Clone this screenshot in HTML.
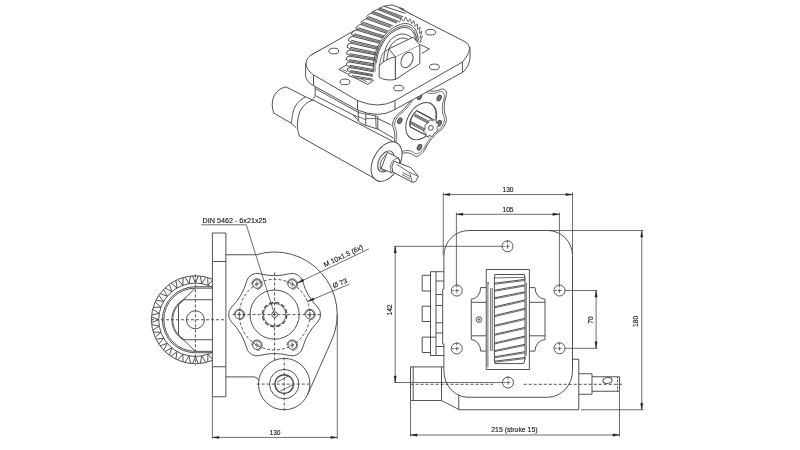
<!DOCTYPE html>
<html><head><meta charset="utf-8"><title>drawing</title>
<style>
html,body{margin:0;padding:0;background:#fff;}
body{width:800px;height:450px;overflow:hidden;font-family:"Liberation Sans",sans-serif;}
svg{display:block;will-change:transform;}
svg *{fill:none;stroke:#4a4a4a;stroke-width:0.95;stroke-linecap:butt;stroke-linejoin:round;}
svg text{fill:#111;stroke:#111;stroke-width:0.12;opacity:0.99;font-family:"Liberation Sans",sans-serif;}
svg .ar{fill:#222;stroke:#222;stroke-width:0.3;}
svg .t{stroke-width:0.8;}
svg .d{stroke-dasharray:3 2;}
svg .d2{stroke-dasharray:2 1.3;}
svg .w{fill:#fff;}
svg .wn{fill:#fff;stroke:none;}
svg .gb{fill:#e6e6e6;stroke:none;}
svg .dk{fill:#777;}
</style></head><body>
<svg width="800" height="450" viewBox="0 0 800 450">
<path d="M443.9,255.5 A25,25 0 0 1 468.9,230.5 L547.5,230.5 A25,25 0 0 1 572.5,255.5 L572.5,370.75 A25,26.5 0 0 1 547.5,397.25 L467.9,397.25 A24,26.5 0 0 1 443.9,370.75 L443.9,344 L442.7,344 L442.7,289 L443.9,289 Z"/>
<path d="M572.50,359.25 L578.75,359.25 L578.75,409.75 L458.75,409.75 L458.75,394.60"/>
<path d="M441.50,366.90 L410.50,366.90 L410.50,400.50 L441.50,400.50 L458.75,409.40"/>
<line x1="413.20" y1="366.90" x2="413.20" y2="400.50"/>
<line x1="441.50" y1="366.90" x2="441.50" y2="400.50"/>
<line x1="441.50" y1="366.90" x2="443.90" y2="366.90"/>
<path d="M578.75,373.75 L592.00,373.75 L592.00,394.25 L578.75,394.25"/>
<path d="M592.00,376.75 L619.50,376.75 L619.50,391.25 L592.00,391.25"/>
<line x1="617.50" y1="376.75" x2="617.50" y2="391.25" class='d2'/>
<ellipse cx="607.50" cy="380.50" rx="4.60" ry="2.90" transform="rotate(-8.0 607.50 380.50)"/>
<circle cx="507.50" cy="246.30" r="5.50"/>
<line x1="505.90" y1="246.30" x2="509.70" y2="246.30" class='t'/>
<line x1="507.50" y1="244.70" x2="507.50" y2="248.50" class='t'/>
<line x1="502.80" y1="246.30" x2="505.00" y2="246.30" class='t'/>
<line x1="507.50" y1="240.20" x2="507.50" y2="243.20" class='t'/>
<circle cx="508.00" cy="382.50" r="5.50"/>
<line x1="506.40" y1="382.50" x2="510.20" y2="382.50" class='t'/>
<line x1="508.00" y1="380.90" x2="508.00" y2="384.70" class='t'/>
<line x1="503.30" y1="382.50" x2="505.50" y2="382.50" class='t'/>
<line x1="508.00" y1="376.40" x2="508.00" y2="379.40" class='t'/>
<circle cx="456.75" cy="290.60" r="5.50"/>
<line x1="455.15" y1="290.60" x2="458.95" y2="290.60" class='t'/>
<line x1="456.75" y1="289.00" x2="456.75" y2="292.80" class='t'/>
<line x1="452.05" y1="290.60" x2="454.25" y2="290.60" class='t'/>
<line x1="456.75" y1="284.50" x2="456.75" y2="287.50" class='t'/>
<circle cx="456.75" cy="348.50" r="5.50"/>
<line x1="455.15" y1="348.50" x2="458.95" y2="348.50" class='t'/>
<line x1="456.75" y1="346.90" x2="456.75" y2="350.70" class='t'/>
<line x1="452.05" y1="348.50" x2="454.25" y2="348.50" class='t'/>
<line x1="456.75" y1="342.40" x2="456.75" y2="345.40" class='t'/>
<circle cx="559.50" cy="290.50" r="5.50"/>
<line x1="557.90" y1="290.50" x2="561.70" y2="290.50" class='t'/>
<line x1="559.50" y1="288.90" x2="559.50" y2="292.70" class='t'/>
<line x1="554.80" y1="290.50" x2="557.00" y2="290.50" class='t'/>
<line x1="559.50" y1="284.40" x2="559.50" y2="287.40" class='t'/>
<circle cx="559.50" cy="348.30" r="5.50"/>
<line x1="557.90" y1="348.30" x2="561.70" y2="348.30" class='t'/>
<line x1="559.50" y1="346.70" x2="559.50" y2="350.50" class='t'/>
<line x1="554.80" y1="348.30" x2="557.00" y2="348.30" class='t'/>
<line x1="559.50" y1="342.20" x2="559.50" y2="345.20" class='t'/>
<rect x="486.25" y="269.5" width="43.15" height="100"/>
<path d="M494.40,278.50 L494.90,274.50 L524.40,274.50 L525.00,278.50"/>
<path d="M494.40,359.60 L494.90,363.60 L523.80,363.60 L525.00,358.60"/>
<line x1="494.40" y1="277.50" x2="494.40" y2="360.60"/>
<line x1="525.00" y1="277.50" x2="525.00" y2="359.60"/>
<line x1="526.30" y1="282.50" x2="526.30" y2="355.60" class='t'/>
<line x1="494.40" y1="277.90" x2="525.00" y2="277.30" class='t'/>
<line x1="494.40" y1="283.20" x2="525.00" y2="279.40"/>
<line x1="494.40" y1="284.30" x2="525.00" y2="280.50" class='t'/>
<line x1="494.40" y1="290.20" x2="525.00" y2="284.90"/>
<line x1="494.40" y1="291.30" x2="525.00" y2="286.00" class='t'/>
<line x1="494.40" y1="297.80" x2="525.00" y2="291.80"/>
<line x1="494.40" y1="298.90" x2="525.00" y2="292.90" class='t'/>
<line x1="494.40" y1="306.80" x2="525.00" y2="299.90"/>
<line x1="494.40" y1="307.90" x2="525.00" y2="301.00" class='t'/>
<line x1="494.40" y1="315.60" x2="525.00" y2="308.30"/>
<line x1="494.40" y1="316.70" x2="525.00" y2="309.40" class='t'/>
<line x1="494.40" y1="325.40" x2="525.00" y2="318.40"/>
<line x1="494.40" y1="326.50" x2="525.00" y2="319.50" class='t'/>
<line x1="494.40" y1="334.30" x2="525.00" y2="327.40"/>
<line x1="494.40" y1="335.40" x2="525.00" y2="328.50" class='t'/>
<line x1="494.40" y1="343.00" x2="525.00" y2="336.00"/>
<line x1="494.40" y1="344.10" x2="525.00" y2="337.10" class='t'/>
<line x1="494.40" y1="350.60" x2="525.00" y2="344.30"/>
<line x1="494.40" y1="351.70" x2="525.00" y2="345.40" class='t'/>
<line x1="494.40" y1="356.80" x2="525.00" y2="351.70"/>
<line x1="494.40" y1="357.90" x2="525.00" y2="352.80" class='t'/>
<line x1="494.40" y1="361.20" x2="525.00" y2="357.50"/>
<line x1="494.40" y1="362.30" x2="525.00" y2="358.60" class='t'/>
<line x1="487.90" y1="282.00" x2="487.90" y2="367.30" class='t'/>
<line x1="490.60" y1="288.00" x2="490.60" y2="351.00" class='t'/>
<line x1="492.30" y1="288.00" x2="492.30" y2="351.00" class='t'/>
<line x1="487.90" y1="282.00" x2="489.00" y2="284.00" class='t'/>
<path d="M486.25,287.6 L480.65,287.6 A9.40,11.60 0 0 1 471.25,299.2 L471.25,339.59999999999997 A9.40,11.60 0 0 1 480.65,351.1 L486.25,351.1"/>
<line x1="471.25" y1="302.30" x2="486.25" y2="302.30"/>
<line x1="471.25" y1="335.80" x2="486.25" y2="335.80"/>
<path d="M529.4,287.6 L535.0,287.6 A10.00,11.60 0 0 0 545.0,299.2 L545.0,339.59999999999997 A10.00,11.60 0 0 0 535.0,351.1 L529.4,351.1"/>
<line x1="545.00" y1="302.30" x2="529.40" y2="302.30"/>
<line x1="545.00" y1="335.80" x2="529.40" y2="335.80"/>
<circle cx="478.90" cy="319.60" r="2.80"/>
<line x1="477.40" y1="319.60" x2="480.40" y2="319.60" class='t'/>
<line x1="478.90" y1="317.60" x2="478.90" y2="321.60" class='t'/>
<path d="M443.90,271.70 L430.50,271.70 L430.50,355.50 L443.90,355.50"/>
<line x1="436.00" y1="271.70" x2="436.00" y2="355.50"/>
<path d="M430.50,275.30 L422.20,275.30 L422.20,291.00 L430.50,291.00"/>
<path d="M430.50,306.20 L422.20,306.20 L422.20,321.50 L430.50,321.50"/>
<path d="M430.50,337.10 L422.20,337.10 L422.20,352.50 L430.50,352.50"/>
<line x1="430.50" y1="337.10" x2="436.00" y2="337.10"/>
<line x1="436.00" y1="281.00" x2="443.90" y2="281.00"/>
<line x1="436.00" y1="294.50" x2="442.70" y2="294.50"/>
<line x1="436.00" y1="305.50" x2="442.70" y2="305.50"/>
<line x1="436.00" y1="322.80" x2="442.70" y2="322.80"/>
<line x1="436.00" y1="333.00" x2="442.70" y2="333.00"/>
<line x1="436.00" y1="346.50" x2="443.90" y2="346.50"/>
<line x1="443.25" y1="192.50" x2="443.25" y2="255.50" class='t'/>
<line x1="572.50" y1="192.50" x2="572.50" y2="255.50" class='t'/>
<line x1="443.25" y1="194.50" x2="572.50" y2="194.50" class='t'/>
<path class="ar" d="M443.25,194.50 L449.85,193.30 L449.85,195.70 Z"/>
<path class="ar" d="M572.50,194.50 L565.90,195.70 L565.90,193.30 Z"/>
<text x="508.00" y="192.00" text-anchor="middle" font-size="6.6">130</text>
<line x1="456.40" y1="212.50" x2="456.40" y2="285.00" class='t'/>
<line x1="559.40" y1="212.50" x2="559.40" y2="285.00" class='t'/>
<line x1="456.40" y1="214.30" x2="559.40" y2="214.30" class='t'/>
<path class="ar" d="M456.40,214.30 L463.00,213.10 L463.00,215.50 Z"/>
<path class="ar" d="M559.40,214.30 L552.80,215.50 L552.80,213.10 Z"/>
<text x="508.00" y="211.60" text-anchor="middle" font-size="6.6">105</text>
<line x1="547.50" y1="230.50" x2="643.50" y2="230.50" class='t'/>
<line x1="581.00" y1="409.75" x2="643.50" y2="409.75" class='t'/>
<line x1="641.75" y1="230.50" x2="641.75" y2="409.75" class='t'/>
<path class="ar" d="M641.75,230.50 L642.95,237.10 L640.55,237.10 Z"/>
<path class="ar" d="M641.75,409.75 L640.55,403.15 L642.95,403.15 Z"/>
<text x="638.50" y="321.30" text-anchor="middle" font-size="6.7" transform="rotate(-90.0 638.50 321.30)">180</text>
<line x1="565.00" y1="290.50" x2="597.00" y2="290.50" class='t'/>
<line x1="565.00" y1="348.30" x2="597.00" y2="348.30" class='t'/>
<line x1="596.10" y1="290.50" x2="596.10" y2="348.30" class='t'/>
<path class="ar" d="M596.10,290.50 L597.30,297.10 L594.90,297.10 Z"/>
<path class="ar" d="M596.10,348.30 L594.90,341.70 L597.30,341.70 Z"/>
<text x="593.00" y="320.10" text-anchor="middle" font-size="6.7" transform="rotate(-90.0 593.00 320.10)">70</text>
<line x1="394.00" y1="246.30" x2="502.00" y2="246.30" class='t'/>
<line x1="394.00" y1="382.50" x2="502.50" y2="382.50" class='t'/>
<line x1="395.20" y1="246.30" x2="395.20" y2="382.50" class='t'/>
<path class="ar" d="M395.20,246.30 L396.40,252.90 L394.00,252.90 Z"/>
<path class="ar" d="M395.20,382.50 L394.00,375.90 L396.40,375.90 Z"/>
<text x="392.00" y="310.00" text-anchor="middle" font-size="6.7" transform="rotate(-90.0 392.00 310.00)">142</text>
<line x1="410.50" y1="384.30" x2="493.00" y2="384.30" class='d'/>
<line x1="523.75" y1="384.30" x2="622.00" y2="384.30" class='d'/>
<line x1="410.50" y1="400.50" x2="410.50" y2="436.50" class='t'/>
<line x1="619.50" y1="391.25" x2="619.50" y2="436.50" class='t'/>
<line x1="410.50" y1="435.00" x2="619.50" y2="435.00" class='t'/>
<path class="ar" d="M410.50,435.00 L417.10,433.80 L417.10,436.20 Z"/>
<path class="ar" d="M619.50,435.00 L612.90,436.20 L612.90,433.80 Z"/>
<text x="514.40" y="431.80" text-anchor="middle" font-size="6.9">215 (stroke 15)</text>
<rect x="212.4" y="233" width="13.50" height="163.75"/>
<line x1="212.40" y1="261.50" x2="225.90" y2="261.50"/>
<line x1="212.40" y1="366.75" x2="225.90" y2="366.75"/>
<path d="M225.9,254.75 L256.25,254.75 A62.6,62.6 0 0 1 331.85,339.93 L307.70,394.50"/>
<path d="M225.9,376.9 L254.3,376.9 Q257.5,377.2 258.75,380.52"/>
<circle cx="284.20" cy="384.10" r="25.70"/>
<circle cx="284.20" cy="384.10" r="14.70"/>
<circle cx="284.2" cy="384.1" r="9.3" style="stroke-width:1.5"/>
<line x1="277.00" y1="382.20" x2="289.00" y2="375.70" class='t'/>
<line x1="280.00" y1="391.20" x2="292.00" y2="385.20" class='t'/>
<line x1="256.70" y1="384.10" x2="310.20" y2="384.10" class='d'/>
<line x1="284.20" y1="357.60" x2="284.20" y2="411.10" class='d'/>
<path d="M317.51,307.08 A10.7,10.7 0 0 1 317.51,322.12 A59.03,59.03 0 0 0 302.57,348.00 A10.7,10.7 0 0 1 289.54,355.52 A59.03,59.03 0 0 0 259.66,355.52 A10.7,10.7 0 0 1 246.63,348.00 A59.03,59.03 0 0 0 231.69,322.12 A10.7,10.7 0 0 1 231.69,307.08 A59.03,59.03 0 0 0 246.63,281.20 A10.7,10.7 0 0 1 259.66,273.68 A59.03,59.03 0 0 0 289.54,273.68 A10.7,10.7 0 0 1 302.57,281.20 A59.03,59.03 0 0 0 317.51,307.08 Z"/>
<circle cx="274.60" cy="314.60" r="35.30" class='d'/>
<circle cx="274.60" cy="314.60" r="24.60"/>
<circle cx="274.6" cy="314.6" r="12.2" style="stroke-width:1.3;stroke-dasharray:4.4 2"/>
<circle cx="274.60" cy="314.60" r="11.20" class='t'/>
<circle cx="274.60" cy="314.60" r="2.90"/>
<circle cx="274.60" cy="314.60" r="0.70" class='dk'/>
<circle cx="309.90" cy="314.60" r="4.30"/>
<path d="M304.60,314.60 A5.3,5.3 0 1 1 309.90,319.90" class='t'/>
<line x1="307.90" y1="314.60" x2="311.90" y2="314.60" class='t'/>
<line x1="309.90" y1="312.00" x2="309.90" y2="317.20" class='t'/>
<circle cx="292.25" cy="345.17" r="4.30"/>
<path d="M286.95,345.17 A5.3,5.3 0 1 1 292.25,350.47" class='t'/>
<line x1="290.25" y1="345.17" x2="294.25" y2="345.17" class='t'/>
<line x1="292.25" y1="342.57" x2="292.25" y2="347.77" class='t'/>
<circle cx="256.95" cy="345.17" r="4.30"/>
<path d="M251.65,345.17 A5.3,5.3 0 1 1 256.95,350.47" class='t'/>
<line x1="254.95" y1="345.17" x2="258.95" y2="345.17" class='t'/>
<line x1="256.95" y1="342.57" x2="256.95" y2="347.77" class='t'/>
<circle cx="239.30" cy="314.60" r="4.30"/>
<path d="M234.00,314.60 A5.3,5.3 0 1 1 239.30,319.90" class='t'/>
<line x1="237.30" y1="314.60" x2="241.30" y2="314.60" class='t'/>
<line x1="239.30" y1="312.00" x2="239.30" y2="317.20" class='t'/>
<circle cx="256.95" cy="284.03" r="4.30"/>
<path d="M251.65,284.03 A5.3,5.3 0 1 1 256.95,289.33" class='t'/>
<line x1="254.95" y1="284.03" x2="258.95" y2="284.03" class='t'/>
<line x1="256.95" y1="281.43" x2="256.95" y2="286.63" class='t'/>
<circle cx="292.25" cy="284.03" r="4.30"/>
<path d="M286.95,284.03 A5.3,5.3 0 1 1 292.25,289.33" class='t'/>
<line x1="290.25" y1="284.03" x2="294.25" y2="284.03" class='t'/>
<line x1="292.25" y1="281.43" x2="292.25" y2="286.63" class='t'/>
<line x1="232.50" y1="314.60" x2="322.00" y2="314.60" class='d'/>
<line x1="274.60" y1="272.50" x2="274.60" y2="361.50" class='d'/>
<clipPath id="gc"><rect x="140" y="260" width="72.40" height="120"/></clipPath>
<g clip-path="url(#gc)">
<circle cx="195.40" cy="319.75" r="44.00"/>
<circle cx="195.40" cy="319.75" r="36.70"/>
<path d="M195.40,286.75 A33.0,33.0 0 0 0 195.40,352.75"/>
<line x1="195.40" y1="286.75" x2="212.40" y2="286.75"/>
<line x1="195.40" y1="352.75" x2="212.40" y2="352.75"/>
<path d="M195.40,288.15 A31.6,31.6 0 0 0 195.40,351.35"/>
<line x1="195.40" y1="288.15" x2="212.40" y2="288.15"/>
<line x1="195.40" y1="351.35" x2="212.40" y2="351.35"/>
<path d="M192.56,275.84 L195.40,283.05 L198.24,275.84"/>
<path d="M200.23,276.02 L201.77,283.61 L205.82,277.00"/>
<path d="M207.75,277.52 L207.95,285.26 L213.09,279.46"/>
<path d="M214.90,280.30 L213.75,287.97 L219.81,283.14"/>
<path d="M221.45,284.29 L218.99,291.64 L225.80,287.94"/>
<path d="M227.21,289.35 L223.51,296.16 L230.86,293.70"/>
<path d="M232.01,295.34 L227.18,301.40 L234.85,300.25"/>
<path d="M235.69,302.06 L229.89,307.20 L237.63,307.40"/>
<path d="M238.15,309.33 L231.54,313.38 L239.13,314.92"/>
<path d="M239.31,316.91 L232.10,319.75 L239.31,322.59"/>
<path d="M239.13,324.58 L231.54,326.12 L238.15,330.17"/>
<path d="M237.63,332.10 L229.89,332.30 L235.69,337.44"/>
<path d="M234.85,339.25 L227.18,338.10 L232.01,344.16"/>
<path d="M230.86,345.80 L223.51,343.34 L227.21,350.15"/>
<path d="M225.80,351.56 L218.99,347.86 L221.45,355.21"/>
<path d="M219.81,356.36 L213.75,351.53 L214.90,359.20"/>
<path d="M213.09,360.04 L207.95,354.24 L207.75,361.98"/>
<path d="M205.82,362.50 L201.77,355.89 L200.23,363.48"/>
<path d="M198.24,363.66 L195.40,356.45 L192.56,363.66"/>
<path d="M190.57,363.48 L189.03,355.89 L184.98,362.50"/>
<path d="M183.05,361.98 L182.85,354.24 L177.71,360.04"/>
<path d="M175.90,359.20 L177.05,351.53 L170.99,356.36"/>
<path d="M169.35,355.21 L171.81,347.86 L165.00,351.56"/>
<path d="M163.59,350.15 L167.29,343.34 L159.94,345.80"/>
<path d="M158.79,344.16 L163.62,338.10 L155.95,339.25"/>
<path d="M155.11,337.44 L160.91,332.30 L153.17,332.10"/>
<path d="M152.65,330.17 L159.26,326.12 L151.67,324.58"/>
<path d="M151.49,322.59 L158.70,319.75 L151.49,316.91"/>
<path d="M151.67,314.92 L159.26,313.38 L152.65,309.33"/>
<path d="M153.17,307.40 L160.91,307.20 L155.11,302.06"/>
<path d="M155.95,300.25 L163.62,301.40 L158.79,295.34"/>
<path d="M159.94,293.70 L167.29,296.16 L163.59,289.35"/>
<path d="M165.00,287.94 L171.81,291.64 L169.35,284.29"/>
<path d="M170.99,283.14 L177.05,287.97 L175.90,280.30"/>
<path d="M177.71,279.46 L182.85,285.26 L183.05,277.52"/>
<path d="M184.98,277.00 L189.03,283.61 L190.57,276.02"/>
</g>
<circle cx="195.40" cy="319.75" r="9.00"/>
<path d="M183.06,299.75 A23.5,23.5 0 0 0 183.06,339.75"/>
<path d="M183.48,300.55 A22.6,22.6 0 0 0 183.48,338.95" class='t'/>
<line x1="183.06" y1="299.75" x2="212.40" y2="299.75"/>
<line x1="183.06" y1="339.75" x2="212.40" y2="339.75"/>
<path d="M195.40,288.15 L178.50,304.45 L178.50,335.05 L195.40,351.35"/>
<line x1="151.00" y1="319.75" x2="225.90" y2="319.75" class='d'/>
<line x1="195.40" y1="274.40" x2="195.40" y2="365.50" class='d'/>
<text x="202.60" y="222.90" text-anchor="start" font-size="7.2">DIN 5462 - 6x21x25</text>
<path d="M201.2,224.8 L246.3,224.8 L274.6,314.6" class='t'/>
<line x1="297.40" y1="283.00" x2="368.90" y2="248.90" class='t'/>
<path class="ar" d="M297.40,283.00 L302.84,279.08 L303.87,281.24 Z"/>
<text x="344.30" y="258.00" text-anchor="middle" font-size="7.0" transform="rotate(-25.5 344.30 258.00)">M 10x1.5 (6x)</text>
<line x1="307.60" y1="301.50" x2="349.60" y2="284.10" class='t'/>
<path class="ar" d="M307.60,301.50 L313.24,297.87 L314.16,300.08 Z"/>
<text x="340.90" y="285.30" text-anchor="middle" font-size="7.0" transform="rotate(-22.5 340.90 285.30)">Ø 73</text>
<line x1="212.40" y1="396.75" x2="212.40" y2="438.50" class='t'/>
<line x1="337.30" y1="314.60" x2="337.30" y2="438.50" class='t'/>
<line x1="212.40" y1="437.40" x2="337.30" y2="437.40" class='t'/>
<path class="ar" d="M212.40,437.40 L219.00,436.20 L219.00,438.60 Z"/>
<path class="ar" d="M337.30,437.40 L330.70,438.60 L330.70,436.20 Z"/>
<text x="275.00" y="435.30" text-anchor="middle" font-size="6.6">130</text>
<g>
<path d="M313,100 L392.5,141.2 L380,181.5 L299.4,136.2 Q295,125 300,111 Q305,102 313,100 Z" class='w'/>
<path d="M286.2,86.9 L305.6,96.9 Q294,104 291.5,123.4 L273.8,113.1 Q270.5,104 274,96 Q278.5,88 286.2,86.9 Z" class='wn'/>
<path d="M305.6,96.9 L286.2,86.9 Q278.5,88 274,96 Q270.5,104 273.8,113.1 L291.5,123.4"/>
<path d="M305.30,96.90 C304.08,97.83 299.97,100.23 298.00,102.50 C296.03,104.77 294.62,107.03 293.50,110.50 C292.38,113.97 291.67,121.17 291.30,123.30"/>
<line x1="305.60" y1="96.90" x2="313.00" y2="100.20"/>
<line x1="291.50" y1="123.40" x2="296.40" y2="128.00"/>
</g>
<g>
<path d="M315.2,86.5 L315.2,98.3 L356.5,118.5 Q361,124.5 369,126.2 L378,129.2 L401,142.6 L404,110 L358,108 Z" class='wn'/>
<line x1="315.50" y1="88.60" x2="358.75" y2="112.60"/>
<line x1="315.20" y1="95.60" x2="356.30" y2="116.40"/>
<path d="M315.20,86.90 C315.20,88.05 315.30,92.15 315.20,93.80 C315.10,95.45 314.97,95.90 314.60,96.80 C314.23,97.70 313.27,98.80 313.00,99.20"/>
<line x1="358.25" y1="110.20" x2="358.25" y2="121.50"/>
<line x1="365.75" y1="113.30" x2="365.75" y2="125.20"/>
<line x1="375.50" y1="115.50" x2="376.20" y2="128.60" class='t'/>
<line x1="377.75" y1="116.00" x2="377.75" y2="129.00"/>
<path d="M352.00,113.80 C352.72,114.55 354.80,116.72 356.30,118.30 C357.80,119.88 359.05,122.02 361.00,123.30 C362.95,124.58 365.17,125.02 368.00,126.00 C370.83,126.98 376.33,128.67 378.00,129.20"/>
<path d="M356.30,116.40 C357.17,116.63 359.93,117.20 361.50,117.80 C363.07,118.40 365.04,119.63 365.75,120.00" class='t'/>
<line x1="365.75" y1="118.60" x2="377.75" y2="118.60" class='t'/>
<line x1="377.75" y1="118.50" x2="395.00" y2="126.90"/>
<line x1="377.75" y1="129.00" x2="401.30" y2="142.70"/>
<line x1="358.75" y1="112.60" x2="377.00" y2="116.20" class='t'/>
</g>
<g>
<path d="M444.65,96.46 L444.98,95.12 L445.16,93.82 L445.16,92.60 L445.01,91.50 L444.69,90.52 L444.22,89.70 L443.60,89.06 L442.86,88.60 L442.00,88.34 L441.05,88.29 L440.03,88.45 L438.97,88.81 L437.51,89.37 L436.07,89.82 L434.66,90.16 L433.28,90.37 L431.93,90.47 L430.63,90.45 L429.37,90.31 L428.17,90.05 L427.03,89.67 L425.94,89.18 L424.93,88.57 L423.98,87.85 L423.25,87.38 L422.40,87.11 L421.46,87.04 L420.45,87.17 L419.39,87.51 L418.30,88.05 L417.21,88.77 L416.15,89.66 L415.14,90.69 L414.20,91.85 L413.35,93.10 L412.62,94.42 L411.67,96.23 L410.66,98.01 L409.57,99.75 L408.43,101.45 L407.23,103.10 L405.97,104.69 L404.67,106.22 L403.32,107.68 L401.94,109.06 L400.53,110.36 L399.09,111.57 L397.63,112.69 L396.57,113.56 L395.55,114.59 L394.60,115.73 L393.74,116.98 L393.00,118.29 L392.38,119.65 L391.91,121.01 L391.59,122.36 L391.44,123.65 L391.44,124.85 L391.62,125.95 L391.95,126.91 L392.46,128.16 L392.88,129.49 L393.21,130.90 L393.45,132.38 L393.59,133.93 L393.64,135.55 L393.59,137.22 L393.45,138.93 L393.21,140.69 L392.88,142.48 L392.46,144.30 L391.95,146.14 L391.62,147.48 L391.44,148.78 L391.44,150.00 L391.59,151.10 L391.91,152.08 L392.38,152.90 L393.00,153.54 L393.74,154.00 L394.60,154.26 L395.55,154.31 L396.57,154.15 L397.63,153.79 L399.09,153.23 L400.53,152.78 L401.94,152.44 L403.32,152.23 L404.67,152.13 L405.97,152.15 L407.23,152.29 L408.43,152.55 L409.57,152.93 L410.66,153.42 L411.67,154.03 L412.62,154.75 L413.35,155.22 L414.20,155.49 L415.14,155.56 L416.15,155.43 L417.21,155.09 L418.30,154.55 L419.39,153.83 L420.45,152.94 L421.46,151.91 L422.40,150.75 L423.25,149.50 L423.98,148.18 L424.93,146.37 L425.94,144.59 L427.03,142.85 L428.17,141.15 L429.37,139.50 L430.63,137.91 L431.93,136.38 L433.28,134.92 L434.66,133.54 L436.07,132.24 L437.51,131.03 L438.97,129.91 L440.03,129.04 L441.05,128.01 L442.00,126.87 L442.86,125.62 L443.60,124.31 L444.22,122.95 L444.69,121.59 L445.01,120.24 L445.16,118.95 L445.16,117.75 L444.98,116.65 L444.65,115.69 L444.14,114.44 L443.72,113.11 L443.39,111.70 L443.15,110.22 L443.01,108.67 L442.96,107.05 L443.01,105.38 L443.15,103.67 L443.39,101.91 L443.72,100.12 L444.14,98.30 Z" class='wn'/>
<path d="M445.85,97.16 L446.18,95.82 L446.36,94.52 L446.36,93.30 L446.21,92.20 L445.89,91.22 L445.42,90.40 L444.80,89.76 L444.06,89.30 L443.20,89.04 L442.25,88.99 L441.23,89.15 L440.17,89.51 L438.71,90.07 L437.27,90.52 L435.86,90.86 L434.48,91.07 L433.13,91.17 L431.83,91.15 L430.57,91.01 L429.37,90.75 L428.23,90.37 L427.14,89.88 L426.13,89.27 L425.18,88.55 L424.45,88.08 L423.60,87.81 L422.66,87.74 L421.65,87.87 L420.59,88.21 L419.50,88.75 L418.41,89.47 L417.35,90.36 L416.34,91.39 L415.40,92.55 L414.55,93.80 L413.82,95.12 L412.87,96.93 L411.86,98.71 L410.77,100.45 L409.63,102.15 L408.43,103.80 L407.17,105.39 L405.87,106.92 L404.52,108.38 L403.14,109.76 L401.73,111.06 L400.29,112.27 L398.83,113.39 L397.77,114.26 L396.75,115.29 L395.80,116.43 L394.94,117.68 L394.20,118.99 L393.58,120.35 L393.11,121.71 L392.79,123.06 L392.64,124.35 L392.64,125.55 L392.82,126.65 L393.15,127.61 L393.66,128.86 L394.08,130.19 L394.41,131.60 L394.65,133.08 L394.79,134.63 L394.84,136.25 L394.79,137.92 L394.65,139.63 L394.41,141.39 L394.08,143.18 L393.66,145.00 L393.15,146.84 L392.82,148.18 L392.64,149.48 L392.64,150.70 L392.79,151.80 L393.11,152.78 L393.58,153.60 L394.20,154.24 L394.94,154.70 L395.80,154.96 L396.75,155.01 L397.77,154.85 L398.83,154.49 L400.29,153.93 L401.73,153.48 L403.14,153.14 L404.52,152.93 L405.87,152.83 L407.17,152.85 L408.43,152.99 L409.63,153.25 L410.77,153.63 L411.86,154.12 L412.87,154.73 L413.82,155.45 L414.55,155.92 L415.40,156.19 L416.34,156.26 L417.35,156.13 L418.41,155.79 L419.50,155.25 L420.59,154.53 L421.65,153.64 L422.66,152.61 L423.60,151.45 L424.45,150.20 L425.18,148.88 L426.13,147.07 L427.14,145.29 L428.23,143.55 L429.37,141.85 L430.57,140.20 L431.83,138.61 L433.13,137.08 L434.48,135.62 L435.86,134.24 L437.27,132.94 L438.71,131.73 L440.17,130.61 L441.23,129.74 L442.25,128.71 L443.20,127.57 L444.06,126.32 L444.80,125.01 L445.42,123.65 L445.89,122.29 L446.21,120.94 L446.36,119.65 L446.36,118.45 L446.18,117.35 L445.85,116.39 L445.34,115.14 L444.92,113.81 L444.59,112.40 L444.35,110.92 L444.21,109.37 L444.16,107.75 L444.21,106.08 L444.35,104.37 L444.59,102.61 L444.92,100.82 L445.34,99.00 Z" class='w'/>
<path d="M443.87,99.02 L444.18,97.78 L444.34,96.58 L444.35,95.46 L444.20,94.43 L443.91,93.53 L443.47,92.77 L442.90,92.17 L442.21,91.75 L441.42,91.52 L440.55,91.47 L439.60,91.61 L438.62,91.95 L437.27,92.47 L435.94,92.88 L434.63,93.19 L433.36,93.39 L432.11,93.48 L430.91,93.46 L429.74,93.33 L428.63,93.09 L427.57,92.74 L426.57,92.29 L425.63,91.73 L424.76,91.06 L424.08,90.62 L423.30,90.37 L422.43,90.31 L421.49,90.43 L420.51,90.75 L419.50,91.24 L418.49,91.91 L417.51,92.73 L416.57,93.69 L415.70,94.76 L414.92,95.91 L414.24,97.14 L413.37,98.81 L412.43,100.46 L411.43,102.07 L410.37,103.64 L409.26,105.17 L408.09,106.64 L406.89,108.05 L405.64,109.40 L404.37,110.68 L403.06,111.88 L401.73,113.00 L400.38,114.04 L399.40,114.84 L398.45,115.79 L397.58,116.85 L396.79,118.00 L396.10,119.22 L395.53,120.47 L395.09,121.73 L394.80,122.98 L394.65,124.17 L394.66,125.29 L394.82,126.30 L395.13,127.19 L395.60,128.34 L395.99,129.57 L396.29,130.88 L396.51,132.25 L396.65,133.69 L396.69,135.18 L396.65,136.72 L396.51,138.31 L396.29,139.94 L395.99,141.59 L395.60,143.28 L395.13,144.98 L394.82,146.22 L394.66,147.42 L394.65,148.54 L394.80,149.57 L395.09,150.47 L395.53,151.23 L396.10,151.83 L396.79,152.25 L397.58,152.48 L398.45,152.53 L399.40,152.39 L400.38,152.05 L401.73,151.53 L403.06,151.12 L404.37,150.81 L405.64,150.61 L406.89,150.52 L408.09,150.54 L409.26,150.67 L410.37,150.91 L411.43,151.26 L412.43,151.71 L413.37,152.27 L414.24,152.94 L414.92,153.38 L415.70,153.63 L416.57,153.69 L417.51,153.57 L418.49,153.25 L419.50,152.76 L420.51,152.09 L421.49,151.27 L422.43,150.31 L423.30,149.24 L424.08,148.09 L424.76,146.86 L425.63,145.19 L426.57,143.54 L427.57,141.93 L428.63,140.36 L429.74,138.83 L430.91,137.36 L432.11,135.95 L433.36,134.60 L434.63,133.32 L435.94,132.12 L437.27,131.00 L438.62,129.96 L439.60,129.16 L440.55,128.21 L441.42,127.15 L442.21,126.00 L442.90,124.78 L443.47,123.53 L443.91,122.27 L444.20,121.02 L444.35,119.83 L444.34,118.71 L444.18,117.70 L443.87,116.81 L443.40,115.66 L443.01,114.43 L442.71,113.12 L442.49,111.75 L442.35,110.31 L442.31,108.82 L442.35,107.28 L442.49,105.69 L442.71,104.06 L443.01,102.41 L443.40,100.72 Z" class='t'/>
<ellipse cx="421.20" cy="121.20" rx="20.00" ry="13.60" transform="rotate(-60.0 421.20 121.20)"/>
<path d="M430,102.6 Q437.5,108 435.7,118.5"/>
<ellipse cx="439.18" cy="98.00" rx="3.1" ry="1.9" transform="rotate(-60 439.18 98.00)" class="dk"/>
<ellipse cx="419.50" cy="96.75" rx="3.1" ry="1.9" transform="rotate(-60 419.50 96.75)" class="dk"/>
<ellipse cx="399.82" cy="120.75" rx="3.1" ry="1.9" transform="rotate(-60 399.82 120.75)" class="dk"/>
<ellipse cx="419.50" cy="147.25" rx="3.1" ry="1.9" transform="rotate(-60 419.50 147.25)" class="dk"/>
<ellipse cx="439.18" cy="123.25" rx="3.1" ry="1.9" transform="rotate(-60 439.18 123.25)" class="dk"/>
<path d="M416.6,110.6 L432.3,118.9 L438,123.5 L428.3,137.2 L425.4,134.8 L410.2,126.9 Q409,119 416.6,110.6 Z" class='w'/>
<path d="M416.60,110.60 C415.87,111.50 413.33,114.10 412.20,116.00 C411.07,117.90 410.13,120.18 409.80,122.00 C409.47,123.82 410.13,126.08 410.20,126.90"/>
<line x1="416.60" y1="110.60" x2="432.30" y2="118.90"/>
<line x1="410.20" y1="126.90" x2="425.60" y2="135.00"/>
<line x1="414.70" y1="113.90" x2="430.00" y2="122.00"/>
<line x1="414.40" y1="114.86" x2="429.70" y2="122.96" class='t'/>
<line x1="414.10" y1="115.90" x2="429.40" y2="124.00"/>
<line x1="410.60" y1="121.40" x2="425.90" y2="129.50"/>
<line x1="410.30" y1="122.36" x2="425.60" y2="130.46" class='t'/>
<line x1="410.00" y1="123.40" x2="425.30" y2="131.50"/>
<line x1="417.80" y1="111.60" x2="432.50" y2="119.60" class='t'/>
<path d="M426.70,136.40 C427.41,136.78 427.24,136.42 428.22,136.11 C429.19,135.80 428.77,135.50 429.63,135.47 C430.48,135.44 429.93,135.78 430.79,136.02 C431.65,136.27 431.34,136.64 432.22,136.21 C433.09,135.78 432.72,135.74 433.41,134.73 C434.10,133.71 433.53,133.93 434.28,133.16 C435.04,132.40 434.75,133.06 435.68,132.42 C436.61,131.79 436.55,132.26 437.08,131.27 C437.60,130.28 437.25,130.59 437.25,129.46 C437.25,128.34 436.87,128.95 437.08,127.89 C437.29,126.84 437.43,127.43 437.88,126.29 C438.33,125.15 438.57,125.44 438.44,124.47 C438.30,123.51 438.17,123.97 437.48,123.40 C436.80,122.82 436.83,123.47 436.37,122.74 C435.91,122.02 436.40,122.20 436.11,121.22 C435.82,120.24 436.21,120.18 435.50,119.80 C434.79,119.42 434.96,119.78 433.98,120.09 C433.01,120.40 433.43,120.70 432.57,120.73 C431.72,120.76 432.27,120.42 431.41,120.18 C430.55,119.93 430.86,119.56 429.98,119.99 C429.11,120.42 429.48,120.46 428.79,121.47 C428.10,122.49 428.67,122.27 427.92,123.04 C427.16,123.80 427.45,123.14 426.52,123.78 C425.59,124.41 425.65,123.94 425.12,124.93 C424.60,125.92 424.95,125.61 424.95,126.74 C424.95,127.86 425.33,127.25 425.12,128.31 C424.91,129.36 424.77,128.77 424.32,129.91 C423.87,131.05 423.63,130.76 423.76,131.73 C423.90,132.69 424.03,132.23 424.72,132.80 C425.40,133.38 425.37,132.73 425.83,133.46 C426.29,134.18 425.80,134.00 426.09,134.98 C426.38,135.96 425.99,136.02 426.70,136.40 Z" class='w'/>
<circle cx="430.90" cy="127.90" r="2.40"/>
</g>
<g>
<ellipse cx="386.60" cy="161.60" rx="21.30" ry="13.20" transform="rotate(-61.0 386.60 161.60)" class='w'/>
<ellipse cx="385.80" cy="161.40" rx="11.40" ry="6.80" transform="rotate(-61.0 385.80 161.40)"/>
<ellipse cx="386.70" cy="162.40" rx="9.40" ry="5.50" transform="rotate(-61.0 386.70 162.40)" class='t'/>
<path d="M387.3,152.2 L398.3,157.9 Q403.5,164 391.4,172.7 L381.2,168.6 Z" class='w'/>
<path d="M398.30,157.90 C398.63,158.67 400.52,160.73 400.30,162.50 C400.08,164.27 398.48,166.80 397.00,168.50 C395.52,170.20 392.33,172.00 391.40,172.70"/>
<path d="M398.30,157.90 C397.50,158.25 394.83,158.65 393.50,160.00 C392.17,161.35 390.65,163.88 390.30,166.00 C389.95,168.12 391.22,171.58 391.40,172.70" class='t'/>
<path d="M394,161.2 L410.8,167.6 L418.4,176.4 L415.6,181.6 L412.3,182.3 L392.8,172 Q390.5,166 394,161.2 Z" class='w'/>
<line x1="396.50" y1="164.20" x2="409.50" y2="172.50" class='t'/>
<line x1="409.50" y1="172.50" x2="412.30" y2="182.30" class='t'/>
<line x1="409.50" y1="172.50" x2="418.40" y2="176.40" class='t'/>
<line x1="402.50" y1="172.30" x2="410.50" y2="176.80" class='t'/>
<line x1="402.00" y1="174.50" x2="410.00" y2="179.00" class='t'/>
</g>
<g>
<path d="M305.6,64 L305.6,76.2 Q306.5,82 313.5,85.6 L357.5,110 Q379.2,118.8 394,110 L462.4,72.4 Q468.5,68 470,58.7 L470,47.5 L400,8 L311,55 Z" class='w'/>
<path d="M311.25,55 L389,11 Q397,6.4 405,11.1 L464,41.2 C470,44.5 473,49.5 462.4,62.1 L395,100.6 Q378.75,109.4 357.5,100.6 L313.75,75 C306,70.5 302.5,60.5 311.25,55 Z" class='w'/>
<line x1="313.50" y1="75.00" x2="313.50" y2="85.60"/>
<line x1="357.50" y1="100.60" x2="357.50" y2="110.00"/>
<line x1="395.00" y1="100.60" x2="395.00" y2="110.00"/>
<line x1="462.40" y1="62.10" x2="462.40" y2="72.40"/>
<ellipse cx="333.75" cy="51.00" rx="5.00" ry="2.80" transform="rotate(0.0 333.75 51.00)"/>
<ellipse cx="345.00" cy="81.90" rx="5.00" ry="2.80" transform="rotate(0.0 345.00 81.90)"/>
<ellipse cx="398.50" cy="88.10" rx="5.00" ry="2.80" transform="rotate(0.0 398.50 88.10)"/>
<ellipse cx="434.40" cy="66.90" rx="5.00" ry="2.80" transform="rotate(0.0 434.40 66.90)"/>
<ellipse cx="430.60" cy="32.20" rx="5.00" ry="2.80" transform="rotate(0.0 430.60 32.20)"/>
<path d="M347.50,64.40 L338.75,69.40 L367.50,84.40 L372.50,81.30"/>
<path d="M342.50,69.30 L367.30,82.20" class='t'/>
<path d="M421.90,45.30 L429.40,49.00 L421.90,53.40"/>
</g>
<g>
<path d="M392.00,4.90 L380.35,8.75 L374.10,11.90 L367.85,15.60 L362.85,21.25 L357.20,26.90 L352.85,32.50 L349.10,38.75 L347.20,45.60 L346.60,52.50 L346.00,58.70 L346.00,64.50 L346.60,70.10 L347.80,75.10 L353.75,77.50 L373.75,80.40 L378.00,66.00 L378.00,50.00 L388.00,32.00 L403.00,23.00 L415.00,26.00 L419.00,41.00 L423.00,37.00 L421.00,27.00 L413.00,19.00 L405.00,13.00 L398.00,7.50 Z" class='wn'/>
<path d="M380.00,8.14 L403.10,16.76 L401.50,19.00 L377.50,9.40 Z" class='gb'/>
<path d="M373.75,11.62 L398.50,21.40 L396.50,23.00 L371.25,13.10 Z" class='gb'/>
<path d="M368.25,16.49 L392.78,25.70 L390.30,27.50 L366.25,18.75 Z" class='gb'/>
<path d="M362.86,22.14 L387.87,30.86 L386.25,33.10 L360.60,24.40 Z" class='gb'/>
<path d="M357.99,27.76 L384.12,35.98 L382.70,37.90 L356.25,30.00 Z" class='gb'/>
<path d="M354.00,33.75 L381.08,41.20 L380.00,43.40 L352.50,36.25 Z" class='gb'/>
<path d="M351.36,40.36 L378.62,47.00 L377.70,49.40 L350.60,43.10 Z" class='gb'/>
<path d="M350.24,47.24 L376.80,52.76 L376.20,55.00 L350.00,50.00 Z" class='gb'/>
<path d="M349.64,53.72 L375.48,58.24 L375.00,60.40 L349.40,56.20 Z" class='gb'/>
<path d="M349.40,59.68 L374.34,63.82 L373.90,66.10 L349.40,62.00 Z" class='gb'/>
<path d="M349.76,65.36 L373.36,69.46 L373.00,71.70 L350.00,67.60 Z" class='gb'/>
<path d="M350.72,70.60 L372.88,74.46 L372.80,76.30 L351.20,72.60 Z" class='gb'/>
<path d="M392.00,4.90 L383.75,6.25 L382.84,6.60 L379.00,8.28 L379.30,9.20 L377.50,9.40 L376.30,9.86 L372.40,11.75 L373.05,12.81 L371.25,13.10 L369.77,13.67 L366.53,16.58 L367.85,18.15 L366.25,18.75 L364.48,19.43 L360.80,22.23 L362.30,23.80 L360.60,24.40 L358.55,25.19 L355.55,27.85 L357.75,29.40 L356.25,30.00 L353.91,30.90 L351.19,33.83 L353.90,35.55 L352.50,36.25 L349.90,37.25 L348.20,40.42 L351.70,42.30 L350.60,43.10 L348.00,44.10 L347.05,47.30 L350.90,49.20 L350.00,50.00 L347.40,51.00 L346.45,53.80 L350.30,55.51 L349.40,56.20 L346.80,57.20 L346.20,59.76 L350.20,61.37 L349.40,62.00 L346.80,63.00 L346.55,65.45 L350.70,67.00 L350.00,67.60 L347.40,68.60 L347.50,70.70 L351.81,72.10 L351.20,72.60 L348.60,73.60 L348.70,75.70 L353.01,77.10 L353.90,77.40 L373.75,80.40"/>
<line x1="383.75" y1="6.25" x2="405.50" y2="13.40"/>
<line x1="380.00" y1="8.14" x2="403.10" y2="16.76"/>
<line x1="379.23" y1="8.83" x2="402.22" y2="17.99" class='t'/>
<line x1="377.50" y1="9.40" x2="401.50" y2="19.00"/>
<line x1="373.75" y1="11.62" x2="398.50" y2="21.40"/>
<line x1="372.98" y1="12.43" x2="397.40" y2="22.28" class='t'/>
<line x1="371.25" y1="13.10" x2="396.50" y2="23.00"/>
<line x1="368.25" y1="16.49" x2="392.78" y2="25.70"/>
<line x1="367.75" y1="17.73" x2="391.42" y2="26.69" class='t'/>
<line x1="366.25" y1="18.75" x2="390.30" y2="27.50"/>
<line x1="362.86" y1="22.14" x2="387.87" y2="30.86"/>
<line x1="362.22" y1="23.38" x2="386.98" y2="32.09" class='t'/>
<line x1="360.60" y1="24.40" x2="386.25" y2="33.10"/>
<line x1="357.99" y1="27.76" x2="384.12" y2="35.98"/>
<line x1="357.63" y1="28.99" x2="383.34" y2="37.04" class='t'/>
<line x1="356.25" y1="30.00" x2="382.70" y2="37.90"/>
<line x1="354.00" y1="33.75" x2="381.08" y2="41.20"/>
<line x1="353.78" y1="35.12" x2="380.49" y2="42.41" class='t'/>
<line x1="352.50" y1="36.25" x2="380.00" y2="43.40"/>
<line x1="351.36" y1="40.36" x2="378.62" y2="47.00"/>
<line x1="351.54" y1="41.87" x2="378.11" y2="48.32" class='t'/>
<line x1="350.60" y1="43.10" x2="377.70" y2="49.40"/>
<line x1="350.24" y1="47.24" x2="376.80" y2="52.76"/>
<line x1="350.71" y1="48.76" x2="376.47" y2="53.99" class='t'/>
<line x1="350.00" y1="50.00" x2="376.20" y2="55.00"/>
<line x1="349.64" y1="53.72" x2="375.48" y2="58.24"/>
<line x1="350.11" y1="55.08" x2="375.22" y2="59.43" class='t'/>
<line x1="349.40" y1="56.20" x2="375.00" y2="60.40"/>
<line x1="349.40" y1="59.68" x2="374.34" y2="63.82"/>
<line x1="350.00" y1="60.96" x2="374.10" y2="65.07" class='t'/>
<line x1="349.40" y1="62.00" x2="373.90" y2="66.10"/>
<line x1="349.76" y1="65.36" x2="373.36" y2="69.46"/>
<line x1="350.49" y1="66.59" x2="373.16" y2="70.69" class='t'/>
<line x1="350.00" y1="67.60" x2="373.00" y2="71.70"/>
<line x1="350.72" y1="70.60" x2="372.88" y2="74.46"/>
<line x1="351.58" y1="71.70" x2="372.84" y2="75.47" class='t'/>
<line x1="351.20" y1="72.60" x2="372.80" y2="76.30"/>
<line x1="351.92" y1="75.60" x2="372.68" y2="79.06"/>
<line x1="392.00" y1="4.90" x2="404.50" y2="9.40"/>
<path d="M399.50,22.60 L400.60,18.75 L403.80,21.20 L405.60,16.90 L408.20,21.90 L410.00,18.75 L411.90,23.60 L413.75,20.60 L415.20,26.40 L417.50,23.75 L417.60,29.60 L420.00,26.90 L419.30,33.60 L421.90,31.25 L420.00,38.00 L422.50,36.25 L419.80,42.30 L421.90,41.25" class='t'/>
<path d="M373.60,72.50 C373.57,71.08 372.93,67.75 373.40,64.00 C373.87,60.25 374.57,54.73 376.40,50.00 C378.23,45.27 381.73,39.20 384.40,35.60 C387.07,32.00 389.73,30.27 392.40,28.40 C395.07,26.53 398.00,25.20 400.40,24.40 C402.80,23.60 404.80,23.33 406.80,23.60 C408.80,23.87 410.80,24.67 412.40,26.00 C414.00,27.33 415.33,29.07 416.40,31.60 C417.47,34.13 418.40,39.60 418.80,41.20"/>
<path d="M375.22,71.56 C375.19,70.23 374.60,67.12 375.03,63.61 C375.47,60.10 376.12,54.95 377.84,50.52 C379.55,46.09 382.82,40.42 385.32,37.06 C387.81,33.69 390.30,32.07 392.80,30.32 C395.29,28.58 398.03,27.33 400.28,26.58 C402.52,25.84 404.39,25.59 406.26,25.84 C408.13,26.09 410.00,26.83 411.50,28.08 C412.99,29.33 414.24,30.95 415.24,33.32 C416.23,35.68 417.11,40.80 417.48,42.29"/>
<path d="M376.29,63.31 C376.73,61.25 377.32,55.11 378.94,50.92 C380.56,46.73 383.66,41.36 386.02,38.18 C388.38,34.99 390.74,33.46 393.10,31.80 C395.46,30.15 398.06,28.97 400.18,28.26 C402.31,27.56 404.08,27.32 405.85,27.56 C407.62,27.79 409.39,28.50 410.80,29.68 C412.22,30.86 413.40,32.39 414.34,34.64 C415.29,36.88 416.11,41.72 416.47,43.13"/>
<path d="M383.20,63.50 C383.53,61.25 384.07,53.85 385.20,50.00 C386.33,46.15 388.13,42.80 390.00,40.40 C391.87,38.00 394.40,36.67 396.40,35.60 C398.40,34.53 400.27,34.13 402.00,34.00 C403.73,33.87 405.33,34.27 406.80,34.80 C408.27,35.33 409.33,36.13 410.80,37.20 C412.27,38.27 414.07,39.90 415.60,41.20 C417.13,42.50 419.27,44.37 420.00,45.00"/>
<path d="M386.50,62.00 C386.83,60.08 387.50,53.62 388.50,50.50 C389.50,47.38 390.92,45.17 392.50,43.30 C394.08,41.43 396.25,40.18 398.00,39.30 C399.75,38.42 401.33,38.02 403.00,38.00 C404.67,37.98 406.32,38.38 408.00,39.20 C409.68,40.02 412.25,42.28 413.10,42.90"/>
<path d="M395.3,56.8 L419.8,44.8 L419.8,63.5 L395.3,79.6 Z" class='w'/>
<path d="M395.3,56.8 L388.9,48.9 L413.1,37.2 L419.8,44.8" class='w'/>
<path d="M395.3,56.8 Q385,59 379.2,66 L379.2,77.3 Q385,81 395.3,79.6 Z" class='w'/>
<path d="M388.90,48.90 C387.83,49.75 384.12,51.15 382.50,54.00 C380.88,56.85 379.75,64.00 379.20,66.00" class='t'/>
<ellipse cx="407.00" cy="60.00" rx="8.30" ry="5.40" transform="rotate(-63.0 407.00 60.00)"/>
<line x1="419.80" y1="44.80" x2="421.90" y2="45.30" class='t'/>
</g>
</svg>
</body></html>
